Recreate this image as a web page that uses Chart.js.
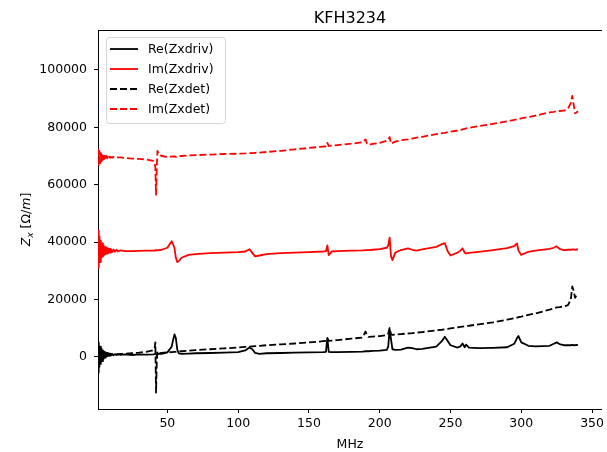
<!DOCTYPE html>
<html>
<head>
<meta charset="utf-8">
<script src="https://cdn.jsdelivr.net/npm/chart.js@4"></script>
<style>
  body { margin: 0; background: #fff; }
  canvas { display: block; }
</style>
</head>
<body>
<canvas id="zxChart" width="607" height="452"></canvas>
<script>
// frequency axis (MHz)
const freqMHz = [
  1, 1.5, 2, 2.5, 3, 3.5, 4, 4.5, 5, 5.5,
  6, 6.5, 7, 7.5, 8, 8.5, 9, 9.5, 10, 11, 12, 13, 14, 15, 17, 20, 25, 30,
  35, 40, 41, 41.5, 42, 42.5, 43, 44, 46, 50,
  53, 55, 56, 57, 58, 60, 65, 70, 80, 90,
  100, 105, 108, 110, 112, 115, 120, 130, 140, 150,
  160, 162, 163, 164, 166, 170, 180, 188, 190, 191,
  192, 195, 200, 205, 206, 207, 208, 209, 211, 215,
  220, 223, 226, 230, 240, 244, 246, 248, 250, 255,
  257, 258.5, 260, 261, 263, 270, 280, 290, 295, 297,
  298, 300, 305, 310, 320, 323, 325, 327, 330, 333,
  335, 336, 337, 338, 339, 340
];
const reZxdriv = [
  -5500, 5000, -3500, 3500, -2500, 2800, -1500, 2200, -800, 1800,
  -300, 1500, 100, 1300, 200, 1200, 300, 1100, 400, 1000, 500, 900, 600, 800, 650, 800, 600, 800,
  700, 800, 900, 1000, 800, 600, 900, 1000, 1000, 1500,
  3500, 7800, 6500, 2500, 1200, 1000, 1100, 1200, 1300, 1400,
  1600, 2200, 3200, 2600, 1300, 1000, 1200, 1300, 1400, 1500,
  1600, 1700, 6500, 1700, 1600, 1600, 1700, 1800, 1900, 1900,
  1900, 2000, 2100, 2400, 3500, 9500, 6000, 2600, 2400, 2500,
  3200, 3000, 2600, 2700, 3500, 5500, 7000, 5500, 4000, 3200,
  3600, 4600, 3300, 4200, 3200, 3000, 3100, 3300, 4500, 6500,
  7200, 5000, 3800, 3600, 3800, 4500, 5000, 4400, 4000, 4000,
  4000, 4100, 4000, 4000, 4100, 4000
];
const imZxdriv = [
  44000, 31000, 42000, 33000, 40500, 34500, 39500, 35000, 38800, 35500,
  38200, 35800, 38000, 36000, 37900, 36200, 37700, 36300, 37600, 36500, 37400, 36600, 37300, 36700, 37100, 36800, 36800, 36900,
  37000, 37000, 37100, 37000, 37200, 37100, 37100, 37200, 37300, 38000,
  40300, 38000, 34500, 33000, 33300, 34500, 35500, 35800, 36100, 36300,
  36500, 36700, 37500, 36200, 35000, 35300, 35800, 36100, 36300, 36500,
  36700, 36800, 38800, 35400, 36700, 36800, 37000, 37100, 37200, 37200,
  37200, 37300, 37500, 38000, 38800, 41500, 35000, 33700, 36300, 37200,
  37800, 37300, 37000, 37400, 38300, 39300, 39600, 36800, 35300, 36300,
  37000, 37800, 36300, 36000, 36200, 36600, 37200, 37900, 38600, 39500,
  37000, 35500, 36600, 37000, 37600, 38000, 38500, 37600, 37200, 37300,
  37300, 37400, 37400, 37300, 37400, 37400
];
const reZxdet = [
  -3000, 3500, -2000, 2500, -1200, 2000, -500, 1500, 0, 1300,
  300, 1100, 400, 1000, 500, 950, 550, 900, 600, 850, 700, 850, 800, 900, 950, 1000, 1200, 1400,
  1700, 2200, 3000, 5000, -12500, -2000, 1800, 1200, 1300, 1500,
  1600, 1700, 1700, 1800, 1800, 1900, 2100, 2300, 2600, 2900,
  3200, 3400, 3500, 3600, 3700, 3800, 4000, 4300, 4600, 5000,
  5400, 5500, 6500, 5500, 5600, 5800, 6300, 6700, 8800, 7500,
  6900, 7000, 7200, 7500, 8000, 10000, 7800, 7600, 7700, 7900,
  8100, 8200, 8400, 8600, 9200, 9400, 9600, 9700, 9900, 10200,
  10400, 10500, 10600, 10700, 10800, 11300, 12000, 12900, 13400, 13600,
  13800, 14000, 14600, 15100, 16400, 16900, 17200, 17300, 17500, 18000,
  20000, 24500, 23000, 20500, 21500, 21000
];
const imZxdet = [
  72500, 66500, 71800, 67500, 71000, 68200, 70600, 68700, 70300, 69000,
  70000, 69000, 70000, 69200, 69900, 69300, 69800, 69400, 69700, 69400, 69700, 69500, 69600, 69500, 69500, 69300, 69100, 69000,
  68800, 68300, 67500, 66000, 56500, 66000, 71800, 70500, 70000, 69700,
  69800, 69900, 69700, 69600, 69900, 70000, 70200, 70300, 70500, 70700,
  70800, 70900, 71000, 71000, 71100, 71200, 71400, 71800, 72300, 72800,
  73300, 73400, 74600, 73500, 73600, 73800, 74300, 74800, 75800, 74300,
  73900, 74200, 74600, 75300, 75800, 76600, 74300, 74600, 75000, 75500,
  75800, 76100, 76400, 76700, 77600, 78000, 78100, 78300, 78500, 78900,
  79100, 79300, 79500, 79600, 79800, 80400, 81200, 82100, 82600, 82800,
  82900, 83100, 83600, 84100, 85200, 85400, 85600, 85700, 85800, 86500,
  88500, 91000, 88000, 84900, 85200, 85600
];
const seriesLabels = ['Re(Zxdriv)', 'Im(Zxdriv)', 'Re(Zxdet)', 'Im(Zxdet)'];
const xTicks = [50, 100, 150, 200, 250, 300, 350];
const yTicks = [0, 20000, 40000, 60000, 80000, 100000];

const FONT = '"DejaVu Sans", sans-serif';
const dash = [7, 3];

function pts(ys) {
  return freqMHz.map((f, i) => ({ x: f, y: ys[i] }));
}

const styles = [
  { color: '#000000', dash: [] },
  { color: '#ff0000', dash: [] },
  { color: '#000000', dash: dash },
  { color: '#ff0000', dash: dash }
];
const allSeries = [reZxdriv, imZxdriv, reZxdet, imZxdet];

const datasets = allSeries.map((ys, i) => ({
  label: seriesLabels[i],
  data: pts(ys),
  borderColor: styles[i].color,
  borderDash: styles[i].dash,
  borderWidth: 1.8,
  borderJoinStyle: 'round',
  pointRadius: 0,
  tension: 0,
  fill: false,
  order: 3 - i
}));

// title, top spine, axis labels and legend
const decor = {
  id: 'decor',
  afterDraw(chart) {
    const ctx = chart.ctx, a = chart.chartArea;
    const cx = (a.left + a.right) / 2;
    ctx.save();
    ctx.strokeStyle = '#000';
    ctx.lineWidth = 1;
    ctx.beginPath();
    ctx.moveTo(a.left, a.top + 0.5);
    ctx.lineTo(a.right, a.top + 0.5);
    ctx.stroke();

    ctx.fillStyle = '#000';
    ctx.textAlign = 'center';
    ctx.textBaseline = 'alphabetic';
    ctx.font = '16px ' + FONT;
    ctx.fillText('KFH3234', cx, 23);
    ctx.font = '12.5px ' + FONT;
    ctx.fillText('MHz', cx, 448);

    // y label: Z_x [Ω/m]
    const parts = [
      { t: 'Z', it: true, sub: false },
      { t: 'x', it: true, sub: true },
      { t: ' [Ω/', it: false, sub: false },
      { t: 'm', it: true, sub: false },
      { t: ']', it: false, sub: false }
    ];
    const fontOf = p => (p.it ? 'italic ' : '') + (p.sub ? '9px ' : '12.5px ') + FONT;
    let total = 0;
    parts.forEach(p => { ctx.font = fontOf(p); p.w = ctx.measureText(p.t).width; total += p.w; });
    ctx.translate(30, (a.top + a.bottom) / 2);
    ctx.rotate(-Math.PI / 2);
    ctx.textAlign = 'left';
    let u = -total / 2;
    parts.forEach(p => {
      ctx.font = fontOf(p);
      ctx.fillText(p.t, u, p.sub ? 3 : 0);
      u += p.w;
    });
    ctx.setTransform(1, 0, 0, 1, 0, 0);

    // legend
    const bx = a.left + 8, by = a.top + 7, bw = 119, bh = 86;
    ctx.beginPath();
    ctx.roundRect(bx + 0.5, by + 0.5, bw, bh, 3);
    ctx.fillStyle = 'rgba(255,255,255,0.8)';
    ctx.fill();
    ctx.strokeStyle = '#d6d6d6';
    ctx.lineWidth = 1;
    ctx.stroke();
    ctx.font = '12.5px ' + FONT;
    ctx.textAlign = 'left';
    ctx.textBaseline = 'middle';
    seriesLabels.forEach((lab, i) => {
      const y = by + 12 + i * 20;
      ctx.beginPath();
      ctx.setLineDash(styles[i].dash);
      ctx.strokeStyle = styles[i].color;
      ctx.lineWidth = 1.8;
      ctx.moveTo(bx + 4, y);
      ctx.lineTo(bx + 32, y);
      ctx.stroke();
      ctx.setLineDash([]);
      ctx.fillStyle = '#000';
      ctx.fillText(lab, bx + 42, y + 0.5);
    });
    ctx.restore();
  }
};

const ctx = document.getElementById('zxChart').getContext('2d');
const zxChart = new Chart(ctx, {
  type: 'line',
  data: { datasets: datasets },
  options: {
    responsive: false,
    animation: false,
    devicePixelRatio: 1,
    layout: { padding: { top: 30, left: 0, right: 0, bottom: 0 } },
    plugins: {
      legend: { display: false },
      tooltip: { enabled: false },
      title: { display: false }
    },
    scales: {
      x: {
        type: 'linear',
        min: 1,
        max: 357,
        afterBuildTicks: s => { s.ticks = xTicks.map(v => ({ value: v })); },
        afterFit: s => { s.height = 43; },
        grid: { drawOnChartArea: false, drawTicks: true, tickLength: 4, tickColor: '#000' },
        border: { display: true, color: '#000', width: 1 },
        ticks: {
          autoSkip: false, maxRotation: 0, padding: 3,
          color: '#000', font: { family: FONT, size: 12.5 },
          callback: v => String(v)
        }
      },
      y: {
        type: 'linear',
        min: -18240,
        max: 113950,
        afterBuildTicks: s => { s.ticks = yTicks.map(v => ({ value: v })); },
        afterFit: s => { s.width = 98; },
        grid: { drawOnChartArea: false, drawTicks: true, tickLength: 4, tickColor: '#000' },
        border: { display: true, color: '#000', width: 1 },
        ticks: {
          padding: 7,
          color: '#000', font: { family: FONT, size: 12.5 },
          callback: v => String(v)
        }
      }
    }
  },
  plugins: [decor]
});
</script>
</body>
</html>
